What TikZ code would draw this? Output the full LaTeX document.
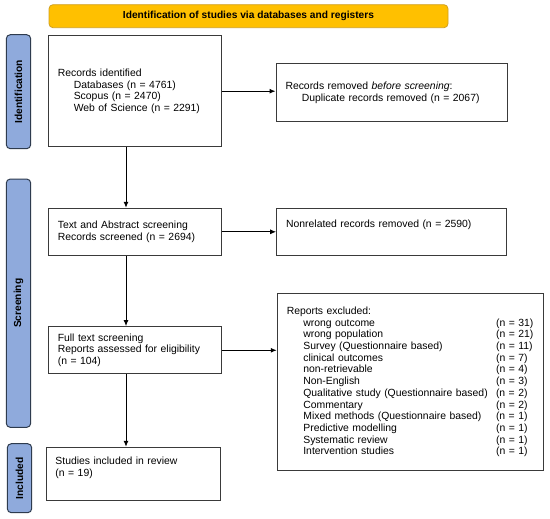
\documentclass[tikz,border=0pt]{standalone}
\usepackage{fontspec}
\setmainfont{Liberation Sans}
\usetikzlibrary{arrows.meta}
\definecolor{gold}{HTML}{FFC000}
\definecolor{goldline}{HTML}{D0A020}
\definecolor{barfill}{HTML}{8FAADC}
\definecolor{barline}{HTML}{2E3B4E}
\definecolor{boxline}{HTML}{3A3A3A}
\begin{document}
\begin{tikzpicture}[x=1pt,y=-1pt,
  every node/.style={font=\fontsize{10.4}{11.7}\selectfont},
  box/.style={draw=boxline, line width=1pt, fill=white, inner xsep=9.5pt, inner ysep=0pt, align=left},
  bar/.style={draw=barline, line width=1pt, fill=barfill, rounded corners=4pt, inner sep=0pt,
    minimum height=24.4pt, rotate=90, font=\fontsize{10.2}{12}\selectfont\bfseries},
  banner/.style={draw=goldline, line width=0.8pt, fill=gold, rounded corners=4pt, inner sep=0pt,
    minimum width=399pt, minimum height=23pt, font=\fontsize{10.2}{12}\selectfont\bfseries},
  conn/.style={draw=black, line width=1pt, -{Latex[length=6pt,width=5pt]}}
]
\useasboundingbox (0,0) rectangle (550,519);
\fill[white] (0,0) rectangle (550,519);

% banner
\node[banner] (top) at (248.5,16.2) {Identification of studies via databases and registers};

% side bars
\node[bar, minimum width=114pt] (idbar) at (18.5,91.7) {Identification};
\node[bar, minimum width=248.3pt] (scbar) at (18.5,303.2) {Screening};
\node[bar, minimum width=69pt] (inbar) at (19.5,478.2) {Included};

% boxes
\node[box, text width=154.4pt, minimum width=173.4pt, minimum height=111pt] (b1) at (135,91.2)
 {Records identified\\
  \hspace*{16pt}Databases (n = 4761)\\
  \hspace*{16pt}Scopus (n = 2470)\\
  \hspace*{16pt}Web of Science (n = 2291)};

\node[box, text width=212pt, minimum width=231pt, minimum height=58.4pt] (b2) at (391.5,92.5)
 {Records removed \textit{before screening}:\\
  \hspace*{16.3pt}Duplicate records removed (n = 2067)};

\node[box, text width=154.4pt, minimum width=173.4pt, minimum height=47pt] (b3) at (135,231.8)
 {Text and Abstract screening\\
  Records screened (n = 2694)};

\node[box, text width=211.3pt, minimum width=230.3pt, minimum height=47pt] (b4) at (391.8,231.8)
 {Nonrelated records removed (n = 2590)\\\strut};

\node[box, text width=154.4pt, minimum width=173.4pt, minimum height=47.3pt] (b5) at (135,350.3)
 {Full text screening\\
  Reports assessed for eligibility\\
  (n = 104)};

\node[box, text width=247.7pt, minimum width=266.7pt, minimum height=177.4pt] (b6) at (410.6,382)
 {Reports excluded:\\
  \hspace*{16.6pt}\makebox[192.7pt][l]{wrong outcome}(n = 31)\\
  \hspace*{16.6pt}\makebox[192.7pt][l]{wrong population}(n = 21)\\
  \hspace*{16.6pt}\makebox[192.7pt][l]{Survey (Questionnaire based)}(n = 11)\\
  \hspace*{16.6pt}\makebox[192.7pt][l]{clinical outcomes}(n = 7)\\
  \hspace*{16.6pt}\makebox[192.7pt][l]{non-retrievable}(n = 4)\\
  \hspace*{16.6pt}\makebox[192.7pt][l]{Non-English}(n = 3)\\
  \hspace*{16.6pt}\makebox[192.7pt][l]{Qualitative study (Questionnaire based)}(n = 2)\\
  \hspace*{16.6pt}\makebox[192.7pt][l]{Commentary}(n = 2)\\
  \hspace*{16.6pt}\makebox[192.7pt][l]{Mixed methods (Questionnaire based)}(n = 1)\\
  \hspace*{16.6pt}\makebox[192.7pt][l]{Predictive modelling}(n = 1)\\
  \hspace*{16.6pt}\makebox[192.7pt][l]{Systematic review}(n = 1)\\
  \hspace*{16.6pt}\makebox[192.7pt][l]{Intervention studies}(n = 1)};

\node[box, text width=155pt, minimum width=174pt, minimum height=53.4pt] (b7) at (133,474)
 {Studies included in review\\
  (n = 19)\\\strut};

% connectors
\coordinate (spine) at (126,0);
\draw[conn] (b1.south -| spine) -- (b3.north -| spine);
\draw[conn] (b3.south -| spine) -- (b5.north -| spine);
\draw[conn] (b5.south -| spine) -- (b7.north -| spine);
\draw[conn] (b1.east) -- (b1.east -| b2.west);
\draw[conn] (b3.east) -- (b3.east -| b4.west);
\draw[conn] (b5.east) -- (b5.east -| b6.west);
\end{tikzpicture}
\end{document}
